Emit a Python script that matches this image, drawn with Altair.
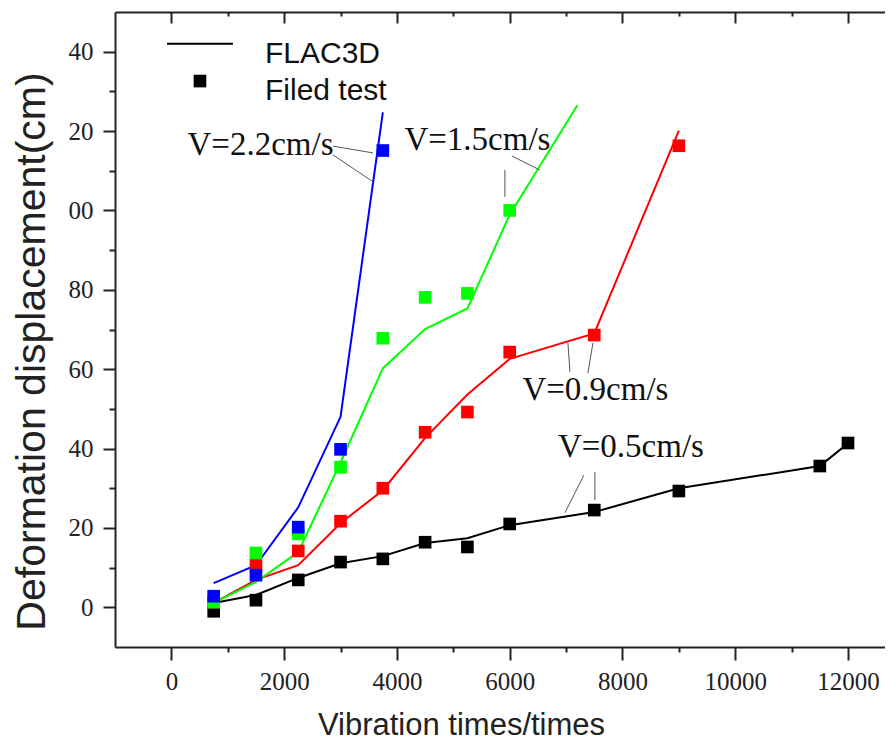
import altair as alt
import pandas as pd

# ---------------- data ----------------
flac_05_x = [750, 1500, 2250, 3000, 3750, 4500, 5250, 6000, 7500, 9000, 11500, 12000]
flac_05_y = [1.1, 3.1, 7.4, 11.1, 12.9, 16.2, 17.4, 20.7, 24.0, 30.0, 35.6, 41.3]
test_05_x = [750, 1500, 2250, 3000, 3750, 4500, 5250, 6000, 7500, 9000, 11500, 12000]
test_05_y = [-1.0, 1.8, 6.9, 11.4, 12.2, 16.4, 15.2, 21.0, 24.5, 29.3, 35.6, 41.4]

flac_09_x = [750, 1500, 2250, 3000, 3750, 4500, 5250, 6000, 7500, 9000]
flac_09_y = [1.1, 6.9, 10.6, 21.2, 29.5, 42.7, 53.6, 62.6, 69.0, 120.1]
test_09_x = [750, 1500, 2250, 3000, 3750, 4500, 5250, 6000, 7500, 9000]
test_09_y = [1.3, 10.6, 14.2, 21.7, 30.0, 44.1, 49.2, 64.3, 68.6, 116.3]

flac_15_x = [750, 1500, 2250, 3000, 3750, 4500, 5250, 6000, 7200]
flac_15_y = [1.1, 6.4, 13.9, 36.5, 60.2, 70.1, 75.3, 98.9, 126.5]
test_15_x = [750, 1500, 2250, 3000, 3750, 4500, 5250, 6000]
test_15_y = [1.3, 13.7, 18.5, 35.3, 67.8, 78.1, 79.1, 100.0]

flac_22_x = [750, 1500, 2250, 3000, 3750]
flac_22_y = [6.1, 10.6, 25.2, 48.0, 124.7]
test_22_x = [750, 1500, 2250, 3000, 3750]
test_22_y = [2.8, 8.1, 20.2, 39.8, 115.1]

series_names = ["V=0.5", "V=0.9", "V=1.5", "V=2.2"]
series_colors = ["#000000", "#ff0000", "#00ff00", "#0000ff"]

x_major = [0, 2000, 4000, 6000, 8000, 10000, 12000]
x_minor = [1000, 3000, 5000, 7000, 9000, 11000]
y_major = [0, 20, 40, 60, 80, 100, 120, 140]
y_minor = [10, 30, 50, 70, 90, 110, 130]

# annotation labels (data coordinates)
ann_text = ["V=2.2cm/s", "V=1.5cm/s", "V=0.9cm/s", "V=0.5cm/s"]
ann_x = [1580, 5428, 7520, 8150]
ann_y = [114.0, 115.2, 52.2, 37.9]

# leader lines
lead_x = [2866, 2866, 5915, 6040, 7033, 7476, 7316, 7511]
lead_y = [116.2, 114.0, 110.2, 113.7, 66.6, 66.6, 33.3, 34.1]
lead_x2 = [3575, 3557, 5915, 6536, 7068, 7387, 6979, 7511]
lead_y2 = [114.5, 107.4, 103.4, 110.2, 59.3, 59.0, 23.8, 27.0]

# legend
legend_text = ["FLAC3D", "Filed test"]
legend_text_x = [1660, 1660]
legend_text_y = [137.1, 127.8]
legend_line_x = [-78]
legend_line_x2 = [1092]
legend_line_y = [142.0]
legend_sq_x = [507]
legend_sq_y = [132.6]

# ---------------- tables ----------------
def mk(names, xx_list, yy_list):
    rows = []
    for n, xx, yy in zip(names, xx_list, yy_list):
        for a, b in zip(xx, yy):
            rows.append({"series": n, "x": a, "y": b})
    return pd.DataFrame(rows)

flac = mk(series_names, [flac_05_x, flac_09_x, flac_15_x, flac_22_x],
          [flac_05_y, flac_09_y, flac_15_y, flac_22_y])
test = mk(series_names, [test_05_x, test_09_x, test_15_x, test_22_x],
          [test_05_y, test_09_y, test_15_y, test_22_y])
ann = pd.DataFrame({"t": ann_text, "x": ann_x, "y": ann_y})
lead = pd.DataFrame({"x": lead_x, "y": lead_y, "x2": lead_x2, "y2": lead_y2})
leg_t = pd.DataFrame({"t": legend_text, "x": legend_text_x, "y": legend_text_y})
leg_l = pd.DataFrame({"x": legend_line_x, "x2": legend_line_x2, "y": legend_line_y})
leg_s = pd.DataFrame({"x": legend_sq_x, "y": legend_sq_y})

xs = alt.Scale(domain=[-1000, 12656], nice=False, zero=False)
ys = alt.Scale(domain=[-10, 150], nice=False, zero=False)
cs = alt.Scale(domain=series_names, range=series_colors)

INK = "#222222"
SERIF = "Liberation Serif"
SANS = "Liberation Sans"

ax_x_major = alt.Axis(
    orient="bottom", values=x_major, format="d", grid=False,
    domain=True, domainColor=INK, domainWidth=2,
    tickSize=13, tickWidth=2, tickColor=INK,
    labelFont=SERIF, labelFontSize=25, labelColor=INK, labelPadding=29,
    labelBaseline="alphabetic", labelFlush=False, labelOverlap=False,
    title="Vibration times/times", titleFont=SANS, titleFontSize=31,
    titleFontWeight="normal", titleColor=INK, titleX=346, titleY=87,
    titleBaseline="alphabetic", titleAlign="center",
)
ax_y_major = alt.Axis(
    orient="left", values=y_major, grid=False,
    domain=True, domainColor=INK, domainWidth=2,
    tickSize=12, tickWidth=2, tickColor=INK,
    labelFont=SERIF, labelFontSize=25, labelColor=INK, labelPadding=10,
    labelFlush=False, labelOverlap=False,
    labelExpr="datum.value >= 100 ? slice(datum.label, 1) : datum.label",
    title="Deformation displacement(cm)", titleFont=SANS, titleFontSize=41,
    titleFontWeight="normal", titleColor=INK, titleAngle=270,
    titleX=-71, titleY=339, titleBaseline="alphabetic", titleAlign="center",
)
ax_x_minor = alt.Axis(orient="bottom", values=x_minor, domain=False, grid=False,
                      tickSize=5, tickWidth=2, tickColor=INK, labels=False, title=None)
ax_y_minor = alt.Axis(orient="left", values=y_minor, domain=False, grid=False,
                      tickSize=6, tickWidth=2, tickColor=INK, labels=False, title=None)
ax_top_line = alt.Axis(orient="top", values=x_major, domain=True, domainColor=INK,
                       domainWidth=2, grid=False, ticks=False, labels=False, title=None)
ax_top_major = alt.Axis(orient="top", values=x_major, domain=False, grid=False, offset=-11,
                        tickSize=11, tickWidth=2, tickColor=INK, labels=False, title=None)
ax_top_minor = alt.Axis(orient="top", values=x_minor, domain=False, grid=False, offset=-4,
                        tickSize=4, tickWidth=2, tickColor=INK, labels=False, title=None)

lines = alt.Chart(flac).mark_line(strokeWidth=2).encode(
    x=alt.X("x:Q", scale=xs, axis=ax_x_major),
    y=alt.Y("y:Q", scale=ys, axis=ax_y_major),
    color=alt.Color("series:N", scale=cs, legend=None),
    order="x:Q",
)
points = alt.Chart(test).mark_square(size=160, opacity=1).encode(
    x=alt.X("x:Q", scale=xs, axis=None),
    y=alt.Y("y:Q", scale=ys, axis=None),
    color=alt.Color("series:N", scale=cs, legend=None),
)
minor = alt.Chart(test).mark_point(opacity=0).encode(
    x=alt.X("x:Q", scale=xs, axis=ax_x_minor),
    y=alt.Y("y:Q", scale=ys, axis=ax_y_minor),
)
top_line = alt.Chart(test).mark_point(opacity=0).encode(
    x=alt.X("x:Q", scale=xs, axis=ax_top_line),
    y=alt.Y("y:Q", scale=ys, axis=None),
)
top_major = alt.Chart(test).mark_point(opacity=0).encode(
    x=alt.X("x:Q", scale=xs, axis=ax_top_major),
    y=alt.Y("y:Q", scale=ys, axis=None),
)
top_minor = alt.Chart(test).mark_point(opacity=0).encode(
    x=alt.X("x:Q", scale=xs, axis=ax_top_minor),
    y=alt.Y("y:Q", scale=ys, axis=None),
)
leaders = alt.Chart(lead).mark_rule(color="#555555", strokeWidth=1).encode(
    x=alt.X("x:Q", scale=xs, axis=None), y=alt.Y("y:Q", scale=ys, axis=None),
    x2="x2:Q", y2="y2:Q",
)
labels = alt.Chart(ann).mark_text(font=SERIF, fontSize=33, align="center",
                                  baseline="alphabetic", color="#111111").encode(
    x=alt.X("x:Q", scale=xs, axis=None), y=alt.Y("y:Q", scale=ys, axis=None), text="t:N",
)
leg_line = alt.Chart(leg_l).mark_rule(color="#000000", strokeWidth=2).encode(
    x=alt.X("x:Q", scale=xs, axis=None), x2="x2:Q", y=alt.Y("y:Q", scale=ys, axis=None),
)
leg_sq = alt.Chart(leg_s).mark_square(size=160, opacity=1, color="#000000").encode(
    x=alt.X("x:Q", scale=xs, axis=None), y=alt.Y("y:Q", scale=ys, axis=None),
)
leg_txt = alt.Chart(leg_t).mark_text(font=SANS, fontSize=30, align="left",
                                     baseline="alphabetic", color="#111111").encode(
    x=alt.X("x:Q", scale=xs, axis=None), y=alt.Y("y:Q", scale=ys, axis=None), text="t:N",
)

chart = alt.layer(
    minor, top_line, top_major, top_minor, lines, points, leaders, labels,
    leg_line, leg_sq, leg_txt
).resolve_axis(x="independent", y="independent").properties(
    width=770, height=635,
    autosize=alt.AutoSizeParams(type="none"),
    padding={"left": 107, "top": 4, "right": 0, "bottom": 94},
    background="white",
).configure_view(stroke=None)

chart.save("out.html", embed_options={"renderer": "svg", "actions": False})
